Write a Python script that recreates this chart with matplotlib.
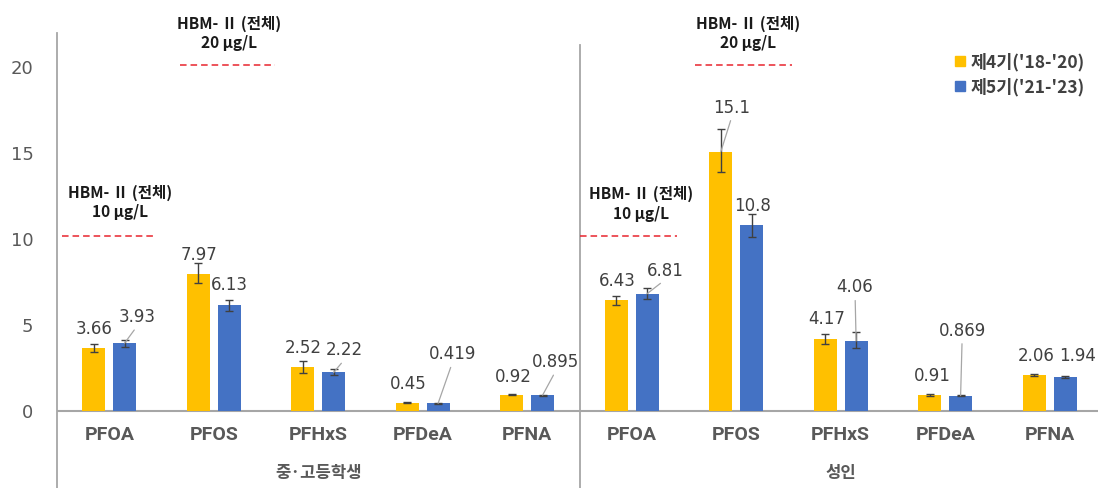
import numpy as np
import matplotlib
matplotlib.use("Agg")
import matplotlib.pyplot as plt
from matplotlib.lines import Line2D

# ── data ────────────────────────────────────────────────────
CATS   = ["PFOA", "PFOS", "PFHxS", "PFDeA", "PFNA"]
GROUPS = ["중·고등학생", "성인"]
SERIES = ["제4기('18-'20)", "제5기('21-'23)"]

# cycle 4 ('18-'20): teens then adults
c4_vals  = [3.66, 7.97, 2.52, 0.45, 0.92,   6.43, 15.1, 4.17, 0.91, 2.06]
c4_low   = [3.40, 7.42, 2.17, 0.43, 0.89,   6.15, 13.92, 3.88, 0.87, 1.99]
c4_high  = [3.89, 8.58, 2.90, 0.47, 0.95,   6.69, 16.40, 4.46, 0.95, 2.14]
c4_text  = ["3.66", "7.97", "2.52", "0.45", "0.92", "6.43", "15.1", "4.17", "0.91", "2.06"]

# cycle 5 ('21-'23)
c5_vals  = [3.93, 6.13, 2.22, 0.419, 0.895, 6.81, 10.8, 4.06, 0.869, 1.94]
c5_low   = [3.72, 5.82, 2.07, 0.39, 0.86,   6.48, 10.13, 3.63, 0.83, 1.88]
c5_high  = [4.13, 6.44, 2.40, 0.45, 0.93,   7.16, 11.46, 4.56, 0.91, 2.00]
c5_text  = ["3.93", "6.13", "2.22", "0.419", "0.895", "6.81", "10.8", "4.06", "0.869", "1.94"]

# HBM-II guidance values (PFOA 10, PFOS 20 µg/L) drawn in both panels
hbm_vals  = [10, 20, 10, 20]
hbm_text  = ["HBM- Ⅱ (전체)\n10 μg/L", "HBM- Ⅱ (전체)\n20 μg/L",
             "HBM- Ⅱ (전체)\n10 μg/L", "HBM- Ⅱ (전체)\n20 μg/L"]

# ── layout / style ──────────────────────────────────────────
YELLOW, BLUE = "#FFC000", "#4472C4"
GRID_GRAY = "#a6a6a6"
TXT_GRAY = "#595959"
LBL_GRAY = "#404040"
KR = ["Noto Sans CJK KR", "DejaVu Sans"]

# label offsets from bar top (pixels): (dx, dy), and whether a leader line is drawn
c4_off  = [(0, 19), (0.5, 19), (0, 19), (0.5, 19), (1, 18),
           (1, 19), (11, 44), (1.5, 20), (2, 19), (1.5, 19.5)]
c4_lead = [False, False, False, False, False, False, True, False, False, False]
c5_off  = [(12.5, 26), (0, 20), (11, 22), (14, 49), (13, 33),
           (18, 23), (1, 19.5), (-1, 53.5), (1.5, 65), (12.5, 21)]
c5_lead = [True, False, True, True, True, True, False, True, True, False]

# HBM line extents / text positions (x in category units, y in data units)
hbm_line_x = [(-0.455, 0.44), (0.68, 1.59), (4.505, 5.43), (5.61, 6.53)]
hbm_text_xy = [(0.10, 12.15), (1.15, 22.0), (5.09, 12.05), (6.11, 22.0)]

W, H = 1098, 488
PX_ZERO, PX_UNIT = 410.5, 17.15
AX_LEFT, AX_TOP = 57, 33
CAT_W = 104.5
ymin = (PX_ZERO - H) / PX_UNIT
ymax = (PX_ZERO - AX_TOP) / PX_UNIT

fig = plt.figure(figsize=(W / 100, H / 100), dpi=100)
ax = fig.add_axes([AX_LEFT / W, 0, 10 * CAT_W / W, (H - AX_TOP) / H])
ax.set_xlim(-0.5, 9.5)
ax.set_ylim(ymin, ymax)

x = np.arange(len(c4_vals))
bw, off = 0.22, 0.147

def err(vals, lo, hi):
    v = np.array(vals)
    return np.vstack([v - np.array(lo), np.array(hi) - v])

ax.bar(x - off, c4_vals, bw, color=YELLOW, zorder=2)
ax.bar(x + off, c5_vals, bw, color=BLUE, zorder=2)
ax.errorbar(x - off, c4_vals, yerr=err(c4_vals, c4_low, c4_high), fmt="none",
            ecolor=LBL_GRAY, elinewidth=1, capsize=2.6, capthick=1, zorder=3)
ax.errorbar(x + off, c5_vals, yerr=err(c5_vals, c5_low, c5_high), fmt="none",
            ecolor=LBL_GRAY, elinewidth=1, capsize=2.6, capthick=1, zorder=3)

# data labels
for xs, vals, texts, offs, leads in [(x - off, c4_vals, c4_text, c4_off, c4_lead),
                                     (x + off, c5_vals, c5_text, c5_off, c5_lead)]:
    for xi, v, t, (dx, dy), lead in zip(xs, vals, texts, offs, leads):
        props = None
        if lead:
            props = dict(arrowstyle="-", color=GRID_GRAY, lw=0.9,
                         relpos=(0.5, 0), shrinkA=1.0, shrinkB=0)
        ax.annotate(t, xy=(xi, v), xytext=(dx, dy), textcoords="offset pixels",
                    ha="center", va="center", fontsize=12, color=LBL_GRAY,
                    family="DejaVu Sans", arrowprops=props, zorder=4)

# axis lines
for s in ["top", "right", "bottom"]:
    ax.spines[s].set_visible(False)
ax.spines["left"].set_color(GRID_GRAY)
ax.spines["left"].set_linewidth(1.3)
ax.axhline(0, color=GRID_GRAY, lw=1.5, zorder=1)
ax.axvline(4.5, ymin=0, ymax=(H - 45) / (H - AX_TOP), color=GRID_GRAY, lw=1.3)

ax.set_yticks([0, 5, 10, 15, 20])
ax.set_yticklabels(["0", "5", "10", "15", "20"], fontsize=13, color=TXT_GRAY,
                   family="DejaVu Sans")
ax.tick_params(axis="y", length=0, pad=17)
ax.set_xticks([])

# category and group labels
cat_y = (PX_ZERO - 435) / PX_UNIT
grp_y = (PX_ZERO - 473) / PX_UNIT
for i in range(10):
    ax.text(i, cat_y, CATS[i % 5], ha="center", va="center", fontsize=14,
            fontweight="bold", color=TXT_GRAY, family="Roboto")
for g, name in enumerate(GROUPS):
    ax.text(2 + 5 * g, grp_y, name, ha="center", va="center", fontsize=12,
            fontweight="bold", color=TXT_GRAY, family=KR)

# HBM-II reference lines
for (x0, x1), yv, (tx, ty), t in zip(hbm_line_x, hbm_vals, hbm_text_xy, hbm_text):
    ax.plot([x0, x1], [yv + 0.15, yv + 0.15], color="#e8252d", lw=1.1,
            linestyle=(0, (4.3, 2.6)), zorder=2)
    ax.text(tx, ty, t, ha="center", va="center", fontsize=11.2,
            fontweight="bold", color="#1a1a1a", family=KR, linespacing=1.25)

# legend
handles = [Line2D([], [], marker="s", ls="", color=c, markersize=6.5) for c in (YELLOW, BLUE)]
leg = fig.legend(handles, SERIES, loc="upper left", bbox_to_anchor=(955 / W, 1 - 53 / H),
                 frameon=False, handlelength=0.6, handletextpad=0.3, labelspacing=0.35,
                 borderaxespad=0, borderpad=0,
                 prop=dict(family=KR, size=12.5, weight="bold"))
for t in leg.get_texts():
    t.set_color(LBL_GRAY)

fig.savefig("out.png", dpi=100)
